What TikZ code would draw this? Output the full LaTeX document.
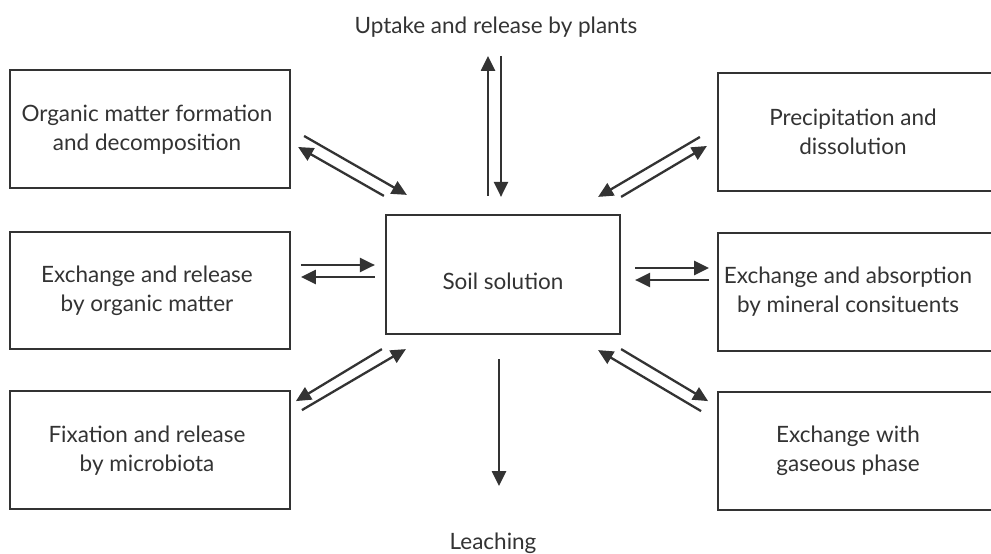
\documentclass[tikz,border=0pt]{standalone}
\usepackage{fontspec}
\setmainfont{Lato}
\usetikzlibrary{arrows.meta,calc}
\definecolor{ink}{HTML}{333333}
\tikzset{
  box/.style={draw=ink, line width=2.2pt, rectangle, inner sep=0pt},
  lbl/.style={align=center, text=ink, font=\fontsize{22.5}{29}\selectfont, inner sep=0pt},
  arr/.style={draw=ink, line width=2.3pt, -{Triangle[length=15pt,width=14pt]}}
}
\begin{document}
\begin{tikzpicture}[x=1pt,y=-1pt]
\useasboundingbox (0,0) rectangle (991,554);
\clip (0,0) rectangle (991,554);
% left boxes
\node[box, minimum width=280pt, minimum height=118pt] (ol) at (150,129) {};
\node[lbl] (olt) at (147,130) {Organic matter formation\\and decomposition};
\node[box, minimum width=280pt, minimum height=117pt] (el) at (150,290.5) {};
\node[lbl] (elt) at (147,291) {Exchange and release\\by organic matter};
\node[box, minimum width=280pt, minimum height=118pt] (fl) at (150,450) {};
\node[lbl] (flt) at (147,451) {Fixation and release\\by microbiota};
% centre
\node[box, minimum width=234pt, minimum height=119pt] (ss) at (503,274.5) {};
\node[lbl] (sst) at (503,281) {Soil solution};
% right boxes (cut at the right edge)
\node[box, minimum width=292pt, minimum height=118pt] (pr) at (864,132) {};
\node[lbl] (prt) at (853,132) {Precipitation and\\dissolution};
\node[box, minimum width=292pt, minimum height=118pt] (er) at (864,292) {};
\node[lbl] (ert) at (848,292) {Exchange and absorption\\by mineral consituents};
\node[box, minimum width=292pt, minimum height=118pt] (gr) at (864,451) {};
\node[lbl] (grt) at (848,451) {Exchange with\\gaseous phase};
% top and bottom labels
\node[lbl] (up) at (496,27) {Uptake and release by plants};
\node[lbl] (le) at (493,543) {Leaching};
% arrows top-left
\draw[arr] ([shift={(13,7)}]ol.east) -- ([shift={(22,-19)}]ss.north west);
\draw[arr] ([shift={(-1,-18)}]ss.north west) -- ([shift={(7,18)}]ol.east);
% vertical top
\draw[arr] ([shift={(-15,-18)}]ss.north) -- ([shift={(-15,-158)}]ss.north);
\draw[arr] ([shift={(-2,-158)}]ss.north) -- ([shift={(-2,-17)}]ss.north);
% top-right
\draw[arr] ([shift={(-17,5)}]pr.west) -- ([shift={(-23,-17)}]ss.north east);
\draw[arr] ([shift={(0,-17)}]ss.north east) -- ([shift={(-10,14)}]pr.west);
% horizontal left
\draw[arr] ([shift={(-84,-9.5)}]ss.west) -- ([shift={(-10,-9.5)}]ss.west);
\draw[arr] ([shift={(-10,2.5)}]ss.west) -- ([shift={(-84,2.5)}]ss.west);
% horizontal right
\draw[arr] ([shift={(14,-6.5)}]ss.east) -- ([shift={(88,-6.5)}]ss.east);
\draw[arr] ([shift={(88,5.5)}]ss.east) -- ([shift={(14,5.5)}]ss.east);
% bottom-left
\draw[arr] ([shift={(-3,14)}]ss.south west) -- ([shift={(-89,66)}]ss.south west);
\draw[arr] ([shift={(-83,75)}]ss.south west) -- ([shift={(21,14)}]ss.south west);
% bottom-right
\draw[arr] ([shift={(0,14)}]ss.south east) -- ([shift={(87,66)}]ss.south east);
\draw[arr] ([shift={(80,76)}]ss.south east) -- ([shift={(-23,15)}]ss.south east);
% leaching
\draw[arr] ([shift={(-4,24)}]ss.south) -- ([shift={(-4,151)}]ss.south);
\end{tikzpicture}
\end{document}
